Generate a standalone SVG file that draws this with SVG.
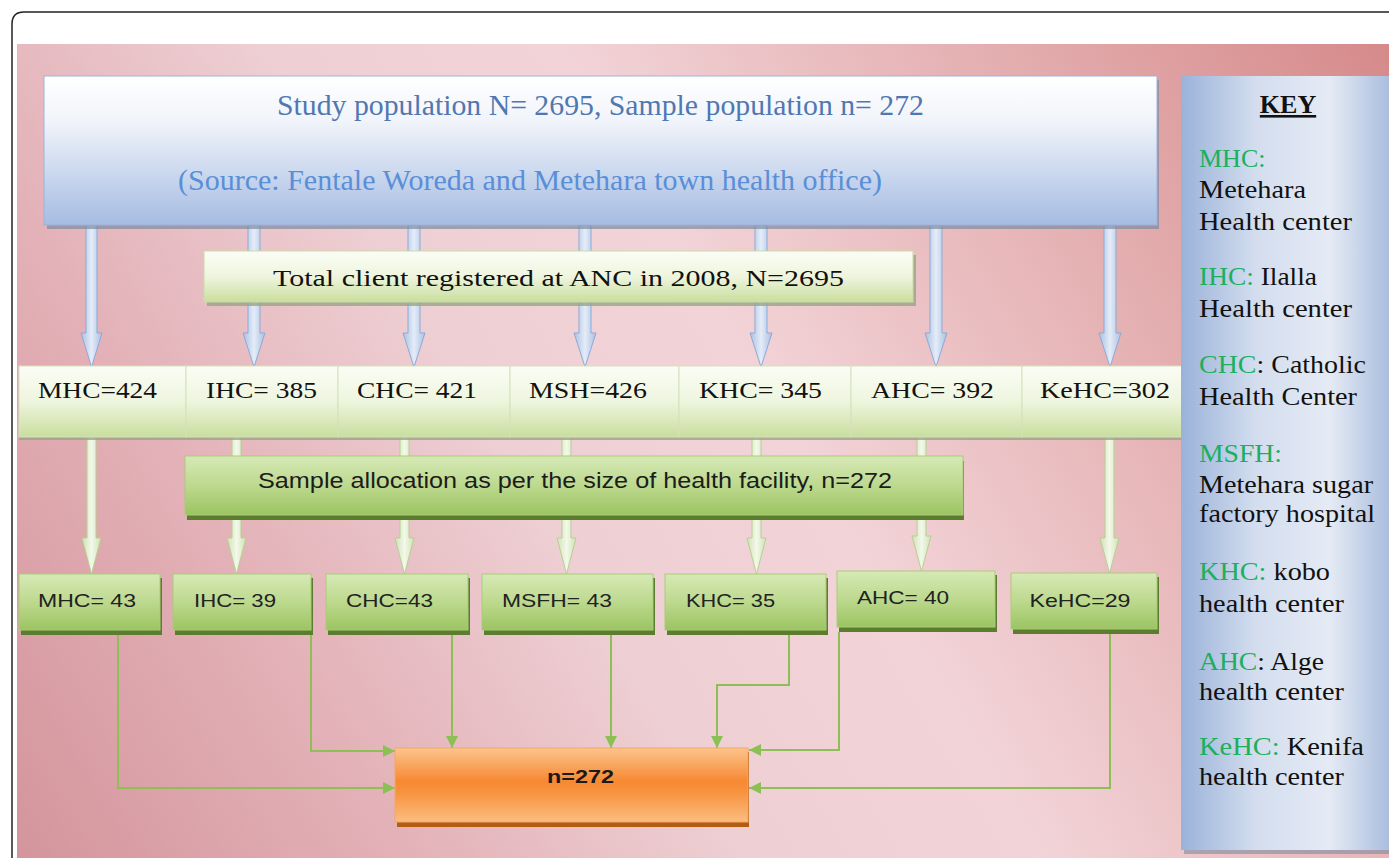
<svg xmlns="http://www.w3.org/2000/svg" width="1389" height="858" viewBox="0 0 1389 858">
<defs>
<linearGradient id="gBg" x1="1389" y1="44" x2="17" y2="858" gradientUnits="userSpaceOnUse">
<stop offset="0" stop-color="#d68a8a"/>
<stop offset="0.25" stop-color="#e6b4b6"/>
<stop offset="0.45" stop-color="#f2d4d8"/>
<stop offset="0.6" stop-color="#eed0d4"/>
<stop offset="0.8" stop-color="#e2b0b6"/>
<stop offset="1" stop-color="#d4959c"/>
</linearGradient>
<linearGradient id="gBlue" x1="0" y1="0" x2="0" y2="1">
<stop offset="0" stop-color="#ffffff"/>
<stop offset="0.3" stop-color="#f1f4fa"/>
<stop offset="1" stop-color="#a5bce2"/>
</linearGradient>
<linearGradient id="gPale" x1="0" y1="0" x2="0" y2="1">
<stop offset="0" stop-color="#fbfdf6"/>
<stop offset="0.5" stop-color="#eef5de"/>
<stop offset="1" stop-color="#c9de9e"/>
</linearGradient>
<linearGradient id="gGreen" x1="0" y1="0" x2="0" y2="1">
<stop offset="0" stop-color="#d6e9b6"/>
<stop offset="0.5" stop-color="#bdd98e"/>
<stop offset="1" stop-color="#9bc462"/>
</linearGradient>
<linearGradient id="gOrange" x1="0" y1="0" x2="0" y2="1">
<stop offset="0" stop-color="#fcc48c"/>
<stop offset="0.45" stop-color="#f68933"/>
<stop offset="0.6" stop-color="#f7933f"/>
<stop offset="1" stop-color="#fbbd80"/>
</linearGradient>
<linearGradient id="gKey" x1="0" y1="0" x2="1" y2="0">
<stop offset="0" stop-color="#9ab2d9"/>
<stop offset="0.35" stop-color="#d3ddee"/>
<stop offset="0.7" stop-color="#e5ebf5"/>
<stop offset="1" stop-color="#a7bbdc"/>
</linearGradient>
<linearGradient id="gBArrow" x1="0" y1="0" x2="1" y2="0">
<stop offset="0" stop-color="#a9c0e4"/>
<stop offset="0.5" stop-color="#e4ecf7"/>
<stop offset="1" stop-color="#a9c0e4"/>
</linearGradient>
<linearGradient id="gGArrow" x1="0" y1="0" x2="1" y2="0">
<stop offset="0" stop-color="#cfe2b4"/>
<stop offset="0.5" stop-color="#f3f8ea"/>
<stop offset="1" stop-color="#cfe2b4"/>
</linearGradient>
<marker id="ah" viewBox="0 0 10 10" refX="10" refY="5" markerWidth="13" markerHeight="12" markerUnits="userSpaceOnUse" orient="auto">
<path d="M0,0 L10,5 L0,10 z" fill="#8cc055"/>
</marker>
<style>
.serif{font-family:"Liberation Serif","Times New Roman",serif;}
.sans{font-family:"Liberation Sans",Arial,sans-serif;}
.t1{font-size:30px;fill:#4f78b2;}
.t2{font-size:30px;fill:#5a8fd8;}
.row{font-size:24px;fill:#111;}
.lab{font-size:19px;fill:#222;}
.key{font-size:26px;fill:#111;}
.kg{fill:#1daf5c;}
.bshadow{fill:#7f8aa0;opacity:0.7;}
.gshadow{fill:#5c7c30;}
.pshadow{fill:#9aa487;opacity:0.8;}
.barrow{fill:url(#gBArrow);stroke:#8fa9d6;stroke-width:1;}
.garrow{fill:url(#gGArrow);stroke:#b6d090;stroke-width:1;}
.conn{fill:none;stroke:#8cc055;stroke-width:2;marker-end:url(#ah);}
</style>
</defs>
<rect x="0" y="0" width="1389" height="858" fill="#ffffff"/>
<rect x="17" y="44" width="1372" height="814" fill="url(#gBg)"/>
<path d="M12,858 V24 Q12,12 24,12 H1389" fill="none" stroke="#222" stroke-width="1.5"/>

<!-- blue arrows from top box -->
<g id="blue-arrows">
<polygon class="barrow" points="86,225 97,225 97,333 102,333 91.5,367 81,333 86,333"/>
<polygon class="barrow" points="248,225 260,225 260,333 265,333 254,367 243,333 248,333"/>
<polygon class="barrow" points="408,225 420,225 420,333 425,333 414,367 403,333 408,333"/>
<polygon class="barrow" points="579,225 591,225 591,333 596,333 585,367 574,333 579,333"/>
<polygon class="barrow" points="755,225 767,225 767,333 772,333 761,367 750,333 755,333"/>
<polygon class="barrow" points="930,225 942,225 942,333 947,333 936,367 925,333 930,333"/>
<polygon class="barrow" points="1104,225 1116,225 1116,333 1121,333 1110,367 1099,333 1104,333"/>
</g>

<!-- green arrows from row 1 -->
<g id="green-arrows">
<polygon class="garrow" points="87,437 96,437 96,538 101,538 91.5,574 82,538 87,538"/>
<polygon class="garrow" points="232,437 241,437 241,538 246,538 236.5,574 227,538 232,538"/>
<polygon class="garrow" points="400,437 409,437 409,538 414,538 404.5,574 395,538 400,538"/>
<polygon class="garrow" points="562,437 571,437 571,538 576,538 566.5,574 557,538 562,538"/>
<polygon class="garrow" points="752,437 761,437 761,538 766,538 756.5,574 747,538 752,538"/>
<polygon class="garrow" points="917,437 926,437 926,536 931,536 921.5,571 912,536 917,536"/>
<polygon class="garrow" points="1105,437 1114,437 1114,538 1119,538 1109.5,573 1100,538 1105,538"/>
</g>

<g id="top-box">
<rect class="bshadow" x="47" y="80" width="1112" height="149"/>
<rect x="44" y="76" width="1113" height="149" fill="url(#gBlue)" stroke="#9db3da" stroke-width="1"/>
<text class="serif t1" x="600.5" y="115" text-anchor="middle" textLength="647" lengthAdjust="spacingAndGlyphs">Study population N= 2695, Sample population n= 272</text>
<text class="serif t2" x="530" y="190" text-anchor="middle" textLength="704" lengthAdjust="spacingAndGlyphs">(Source: Fentale Woreda and Metehara town health office)</text>
</g>

<g id="total-client">
<rect class="pshadow" x="207" y="255" width="709" height="51"/>
<rect x="204" y="251" width="709" height="51" fill="url(#gPale)" stroke="#c9dba5" stroke-width="1"/>
<text class="serif row" x="558.5" y="286" text-anchor="middle" font-size="26" textLength="571" lengthAdjust="spacingAndGlyphs">Total client registered at ANC in 2008, N=2695</text>
</g>

<g id="row1">
<rect class="pshadow" x="19" y="370" width="1175" height="70"/>
<g id="r1-mhc"><rect x="19" y="366" width="167" height="71" fill="url(#gPale)" stroke="#d4e2bc" stroke-width="1"/>
<text class="serif row" x="97.5" y="398" text-anchor="middle" textLength="119" lengthAdjust="spacingAndGlyphs">MHC=424</text></g>
<g id="r1-ihc"><rect x="186" y="366" width="152" height="71" fill="url(#gPale)" stroke="#d4e2bc" stroke-width="1"/>
<text class="serif row" x="261.5" y="398" text-anchor="middle" textLength="111" lengthAdjust="spacingAndGlyphs">IHC= 385</text></g>
<g id="r1-chc"><rect x="338" y="366" width="172" height="71" fill="url(#gPale)" stroke="#d4e2bc" stroke-width="1"/>
<text class="serif row" x="417" y="398" text-anchor="middle" textLength="120" lengthAdjust="spacingAndGlyphs">CHC= 421</text></g>
<g id="r1-msh"><rect x="510" y="366" width="169" height="71" fill="url(#gPale)" stroke="#d4e2bc" stroke-width="1"/>
<text class="serif row" x="588" y="398" text-anchor="middle" textLength="118" lengthAdjust="spacingAndGlyphs">MSH=426</text></g>
<g id="r1-khc"><rect x="679" y="366" width="172" height="71" fill="url(#gPale)" stroke="#d4e2bc" stroke-width="1"/>
<text class="serif row" x="760.5" y="398" text-anchor="middle" textLength="123" lengthAdjust="spacingAndGlyphs">KHC= 345</text></g>
<g id="r1-ahc"><rect x="851" y="366" width="171" height="71" fill="url(#gPale)" stroke="#d4e2bc" stroke-width="1"/>
<text class="serif row" x="932.5" y="398" text-anchor="middle" textLength="123" lengthAdjust="spacingAndGlyphs">AHC= 392</text></g>
<g id="r1-kehc"><rect x="1022" y="366" width="170" height="71" fill="url(#gPale)" stroke="#d4e2bc" stroke-width="1"/>
<text class="serif row" x="1105" y="398" text-anchor="middle" textLength="130" lengthAdjust="spacingAndGlyphs">KeHC=302</text></g>
</g>

<g id="sample-allocation">
<rect class="gshadow" x="187" y="461" width="777" height="59"/>
<rect x="185" y="456" width="778" height="59" fill="url(#gGreen)" stroke="#a9cc7a" stroke-width="1"/>
<text class="sans" x="575" y="488" text-anchor="middle" font-size="22" fill="#1c1c1c" textLength="634" lengthAdjust="spacingAndGlyphs">Sample allocation as per the size of health facility, n=272</text>
</g>

<g id="row3">
<g id="r3-mhc"><rect class="gshadow" x="21" y="578" width="141" height="57"/>
<rect x="19" y="574" width="141" height="56" fill="url(#gGreen)" stroke="#a9cc7a" stroke-width="1"/>
<text class="sans lab" x="87" y="607" text-anchor="middle" textLength="98" lengthAdjust="spacingAndGlyphs">MHC= 43</text></g>
<g id="r3-ihc"><rect class="gshadow" x="175" y="578" width="138" height="57"/>
<rect x="173" y="574" width="138" height="56" fill="url(#gGreen)" stroke="#a9cc7a" stroke-width="1"/>
<text class="sans lab" x="235" y="607" text-anchor="middle" textLength="82" lengthAdjust="spacingAndGlyphs">IHC= 39</text></g>
<g id="r3-chc"><rect class="gshadow" x="328" y="578" width="142" height="57"/>
<rect x="326" y="574" width="142" height="56" fill="url(#gGreen)" stroke="#a9cc7a" stroke-width="1"/>
<text class="sans lab" x="389.5" y="607" text-anchor="middle" textLength="87" lengthAdjust="spacingAndGlyphs">CHC=43</text></g>
<g id="r3-msfh"><rect class="gshadow" x="484" y="578" width="171" height="57"/>
<rect x="482" y="574" width="171" height="56" fill="url(#gGreen)" stroke="#a9cc7a" stroke-width="1"/>
<text class="sans lab" x="557" y="607" text-anchor="middle" textLength="110" lengthAdjust="spacingAndGlyphs">MSFH= 43</text></g>
<g id="r3-khc"><rect class="gshadow" x="667" y="578" width="161" height="57"/>
<rect x="665" y="574" width="161" height="56" fill="url(#gGreen)" stroke="#a9cc7a" stroke-width="1"/>
<text class="sans lab" x="730.5" y="607" text-anchor="middle" textLength="89" lengthAdjust="spacingAndGlyphs">KHC= 35</text></g>
<g id="r3-ahc"><rect class="gshadow" x="839" y="575" width="158" height="57"/>
<rect x="837" y="571" width="158" height="56" fill="url(#gGreen)" stroke="#a9cc7a" stroke-width="1"/>
<text class="sans lab" x="903" y="604" text-anchor="middle" textLength="92" lengthAdjust="spacingAndGlyphs">AHC= 40</text></g>
<g id="r3-kehc"><rect class="gshadow" x="1013" y="577" width="146" height="57"/>
<rect x="1011" y="573" width="146" height="56" fill="url(#gGreen)" stroke="#a9cc7a" stroke-width="1"/>
<text class="sans lab" x="1080" y="607" text-anchor="middle" textLength="101" lengthAdjust="spacingAndGlyphs">KeHC=29</text></g>
</g>

<g id="connectors">
<path class="conn" d="M118,635 V788 H395"/>
<path class="conn" d="M311,635 V751 H395"/>
<path class="conn" d="M452,635 V748"/>
<path class="conn" d="M611,635 V748"/>
<path class="conn" d="M789,635 V685 H717 V748"/>
<path class="conn" d="M839,632 V750 H749"/>
<path class="conn" d="M1110,634 V788 H749"/>
</g>

<g id="total-sample">
<rect x="397" y="752" width="352" height="75" fill="#b25c14"/>
<rect x="395" y="748" width="353" height="74" fill="url(#gOrange)" stroke="#f4a765" stroke-width="1"/>
<text class="sans" x="580.5" y="783" text-anchor="middle" font-size="19" font-weight="bold" fill="#1a1a1a" textLength="67" lengthAdjust="spacingAndGlyphs">n=272</text>
</g>

<g id="key">
<rect x="1184" y="80" width="210" height="774" fill="#7f8aa0" opacity="0.6"/>
<rect x="1181" y="76" width="212" height="774" fill="url(#gKey)"/>
<text class="serif" x="1288" y="113" text-anchor="middle" font-size="26" font-weight="bold" fill="#111" text-decoration="underline">KEY</text>
<text class="serif key" x="1199" y="167"><tspan class="kg">MHC:</tspan></text>
<text class="serif key" x="1199" y="198" textLength="107" lengthAdjust="spacingAndGlyphs">Metehara</text>
<text class="serif key" x="1199" y="230" textLength="153" lengthAdjust="spacingAndGlyphs">Health center</text>
<text class="serif key" x="1199" y="285" textLength="118" lengthAdjust="spacingAndGlyphs"><tspan class="kg">IHC:</tspan> Ilalla</text>
<text class="serif key" x="1199" y="317" textLength="153" lengthAdjust="spacingAndGlyphs">Health center</text>
<text class="serif key" x="1199" y="373" textLength="167" lengthAdjust="spacingAndGlyphs"><tspan class="kg">CHC</tspan>: Catholic</text>
<text class="serif key" x="1199" y="405" textLength="158" lengthAdjust="spacingAndGlyphs">Health Center</text>
<text class="serif key" x="1199" y="462" textLength="83" lengthAdjust="spacingAndGlyphs"><tspan class="kg">MSFH:</tspan></text>
<text class="serif key" x="1199" y="493" textLength="174" lengthAdjust="spacingAndGlyphs">Metehara sugar</text>
<text class="serif key" x="1199" y="522" textLength="176" lengthAdjust="spacingAndGlyphs">factory hospital</text>
<text class="serif key" x="1199" y="580" textLength="131" lengthAdjust="spacingAndGlyphs"><tspan class="kg">KHC:</tspan> kobo</text>
<text class="serif key" x="1199" y="612" textLength="145" lengthAdjust="spacingAndGlyphs">health center</text>
<text class="serif key" x="1199" y="670" textLength="125" lengthAdjust="spacingAndGlyphs"><tspan class="kg">AHC</tspan>: Alge</text>
<text class="serif key" x="1199" y="700" textLength="145" lengthAdjust="spacingAndGlyphs">health center</text>
<text class="serif key" x="1199" y="755" textLength="165" lengthAdjust="spacingAndGlyphs"><tspan class="kg">KeHC:</tspan> Kenifa</text>
<text class="serif key" x="1199" y="785" textLength="145" lengthAdjust="spacingAndGlyphs">health center</text>
</g>
</svg>
